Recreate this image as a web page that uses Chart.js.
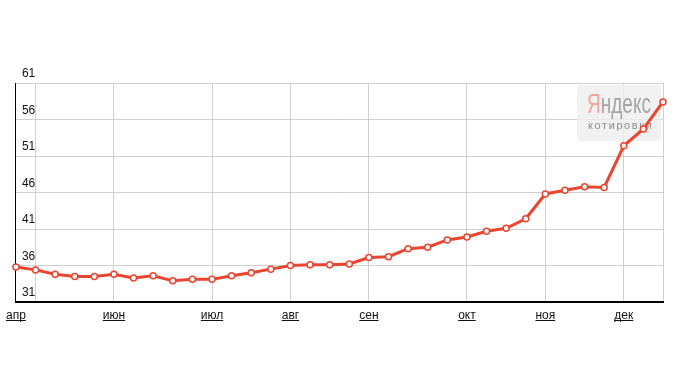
<!DOCTYPE html>
<html>
<head>
<meta charset="utf-8">
<script src="https://cdn.jsdelivr.net/npm/chart.js@4/dist/chart.umd.min.js"></script>
<style>
  body { margin: 0; background: #fff; }
  #wrap { width: 681px; height: 389px; }
</style>
</head>
<body>
<div id="wrap"><canvas id="quoteChart"></canvas></div>
<script>
// weekly quotes
const values = [35.8, 35.4, 34.8, 34.5, 34.5, 34.8, 34.3, 34.6, 33.9, 34.1,
                34.1, 34.6, 35.0, 35.5, 36.0, 36.1, 36.1, 36.2, 37.1, 37.2,
                38.3, 38.5, 39.5, 39.9, 40.7, 41.1, 42.4, 45.8, 46.3, 46.8,
                46.7, 52.4, 54.7, 58.4];
const months = ['апр', 'май', 'июн', 'июл', 'авг', 'сен', 'окт', 'ноя', 'дек'];
const monthWeek = [0, 1, 5, 10, 14, 18, 23, 27, 31];
const hiddenMonth = ['май']; // overlaps "апр"
const yTicks = [31, 36, 41, 46, 51, 56, 61];

const labels = values.map(function (v, i) {
  const k = monthWeek.indexOf(i);
  return k < 0 ? '' : months[k];
});

const lineColor = '#e9452f';

// yandex watermark under the line
const watermark = {
  id: 'watermark',
  beforeDatasetsDraw(chart) {
    const ctx = chart.ctx;
    const a = chart.chartArea;
    const x = a.right - 86, y = a.top + 2, w = 84, h = 56;
    ctx.save();
    ctx.fillStyle = 'rgba(238,238,238,0.8)';
    ctx.beginPath();
    ctx.roundRect(x, y, w, h, 4);
    ctx.fill();
    ctx.clip();
    // "Яндекс", condensed
    ctx.translate(x + 10, y + 28);
    ctx.scale(0.68, 1);
    ctx.font = '28px "Liberation Sans", Arial, sans-serif';
    ctx.textBaseline = 'alphabetic';
    ctx.fillStyle = '#f2a297';
    ctx.fillText('Я', 0, 0);
    const wY = ctx.measureText('Я').width;
    ctx.fillStyle = '#a4a4a4';
    ctx.fillText('ндекс', wY, 0);
    ctx.setTransform(1, 0, 0, 1, 0, 0);
    ctx.font = '11px "Liberation Sans", Arial, sans-serif';
    ctx.letterSpacing = '1.6px';
    ctx.fillStyle = '#8e8e8e';
    ctx.fillText('котировки', x + 11, y + 44);
    ctx.restore();
  }
};

// month labels are links
const underline = {
  id: 'underline',
  afterDraw(chart) {
    const ctx = chart.ctx;
    const sc = chart.scales.x;
    ctx.save();
    ctx.font = '12px "Liberation Sans", Arial, sans-serif';
    ctx.strokeStyle = '#111';
    ctx.lineWidth = 1;
    sc.ticks.forEach(function (t, i) {
      const txt = labels[i];
      if (!txt || hiddenMonth.indexOf(txt) >= 0) return;
      const px = sc.getPixelForTick(i);
      const w = ctx.measureText(txt).width;
      const uy = Math.round(sc.top + 18) + 0.5;
      ctx.beginPath();
      ctx.moveTo(px - w / 2, uy);
      ctx.lineTo(px + w / 2, uy);
      ctx.stroke();
    });
    ctx.restore();
  }
};

new Chart(document.getElementById('quoteChart'), {
  type: 'line',
  data: {
    labels: labels,
    datasets: [{
      data: values,
      borderColor: lineColor,
      borderWidth: 3,
      tension: 0,
      pointRadius: 3,
      pointBorderWidth: 1.5,
      pointBackgroundColor: '#fff',
      pointBorderColor: lineColor
    }]
  },
  options: {
    responsive: true,
    maintainAspectRatio: false,
    animation: false,
    layout: { padding: { left: 15, right: 18, top: 83, bottom: 0 } },
    plugins: { legend: { display: false }, tooltip: { enabled: false } },
    scales: {
      x: {
        border: { color: '#000', width: 2 },
        grid: {
          drawTicks: false,
          color: function (c) {
            return (monthWeek.indexOf(c.index) >= 0 || c.index === values.length - 1) ? '#cfcfcf' : 'rgba(0,0,0,0)';
          }
        },
        ticks: {
          autoSkip: false,
          maxRotation: 0,
          padding: 6,
          color: '#111',
          font: { family: '"Liberation Sans", Arial, sans-serif', size: 12 },
          callback: function (v, i) {
            const l = labels[i];
            return hiddenMonth.indexOf(l) >= 0 ? '' : l;
          }
        },
        afterFit: function (s) { s.height = 87; }
      },
      y: {
        min: yTicks[0],
        max: yTicks[yTicks.length - 1],
        border: { color: '#000', width: 1 },
        grid: { drawTicks: false, color: '#cfcfcf' },
        afterBuildTicks: function (s) {
          s.ticks = yTicks.map(function (v) { return { value: v }; });
        },
        ticks: {
          mirror: true,
          padding: 6,
          labelOffset: -9,
          color: '#111',
          font: { family: '"Liberation Sans", Arial, sans-serif', size: 12 }
        },
        afterFit: function (s) { s.width = 0; }
      }
    }
  },
  plugins: [watermark, underline]
});
</script>
</body>
</html>
